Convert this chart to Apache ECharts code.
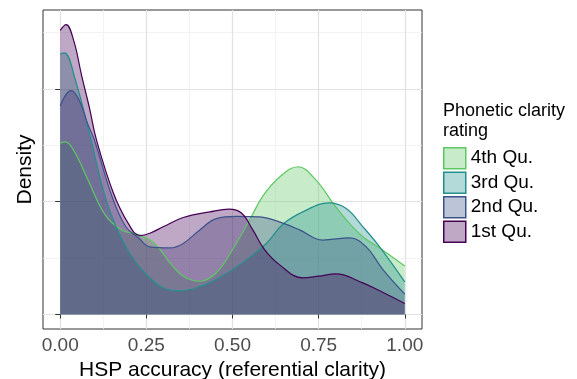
<!DOCTYPE html>
<html>
<head>
<meta charset="utf-8">
<script src="https://cdn.jsdelivr.net/npm/echarts@6/dist/echarts.min.js"></script>
<style>
  html, body { margin: 0; padding: 0; background: #fff; }
  #chart { width: 577px; height: 379px; }
</style>
</head>
<body>
<div id="chart"></div>
<script>
// density curves, one x/y pair of arrays per quartile
const q4X = [0, 0.015, 0.04, 0.081, 0.13, 0.178, 0.226, 0.274, 0.318, 0.357, 0.405, 0.453, 0.5, 0.55, 0.588, 0.637, 0.69, 0.743, 0.791, 0.83, 0.878, 0.927, 1.0];
const q4Y = [1.52, 1.53, 1.45, 1.19, 0.885, 0.75, 0.71, 0.63, 0.46, 0.34, 0.295, 0.37, 0.575, 0.84, 1.05, 1.22, 1.31, 1.19, 0.99, 0.84, 0.69, 0.59, 0.43];

const q3X = [0, 0.012, 0.043, 0.089, 0.125, 0.159, 0.2, 0.245, 0.303, 0.347, 0.4, 0.453, 0.53, 0.598, 0.646, 0.704, 0.78, 0.83, 0.878, 0.927, 1.0];
const q3Y = [2.31, 2.32, 2.09, 1.55, 1.1, 0.8, 0.55, 0.37, 0.23, 0.21, 0.24, 0.31, 0.46, 0.63, 0.8, 0.91, 0.99, 0.94, 0.78, 0.6, 0.29];

const q2X = [0, 0.031, 0.055, 0.081, 0.099, 0.15, 0.19, 0.227, 0.26, 0.318, 0.357, 0.405, 0.453, 0.511, 0.579, 0.646, 0.695, 0.762, 0.84, 0.888, 0.936, 1.0];
const q2Y = [1.85, 1.985, 1.9, 1.68, 1.55, 1.05, 0.78, 0.68, 0.6, 0.59, 0.63, 0.75, 0.85, 0.87, 0.865, 0.81, 0.75, 0.66, 0.68, 0.6, 0.4, 0.18];

const q1X = [0, 0.017, 0.04, 0.062, 0.085, 0.105, 0.154, 0.197, 0.231, 0.26, 0.3, 0.357, 0.434, 0.49, 0.526, 0.559, 0.593, 0.637, 0.704, 0.75, 0.8, 0.878, 0.94, 1.0];
const q1Y = [2.52, 2.57, 2.42, 2.12, 1.83, 1.55, 1.08, 0.81, 0.7, 0.72, 0.78, 0.86, 0.91, 0.935, 0.9, 0.75, 0.575, 0.44, 0.325, 0.34, 0.36, 0.28, 0.19, 0.097];

const groups = ["4th Qu.", "3rd Qu.", "2nd Qu.", "1st Qu."];
const colors = ["#5DC863", "#21908C", "#3B528B", "#440154"];

const xTicks = [0, 0.25, 0.5, 0.75, 1];
const xMinor = [0.125, 0.375, 0.625, 0.875];
const yTicks = [0, 1, 2];
const yMinor = [0.5, 1.5, 2.5];

const fontFamily = "'Liberation Sans', Arial, sans-serif";
const fillAlpha = 0.34;

function rgba(hex, a) {
  const n = parseInt(hex.slice(1), 16);
  return "rgba(" + (n >> 16) + "," + ((n >> 8) & 255) + "," + (n & 255) + "," + a + ")";
}

const curves = [[q4X, q4Y], [q3X, q3Y], [q2X, q2Y], [q1X, q1Y]];

const chart = echarts.init(document.getElementById("chart"));

chart.setOption({
  animation: false,
  backgroundColor: "#fff",
  title: {
    text: "Phonetic clarity\nrating",
    left: 443,
    top: 101,
    padding: 0,
    textStyle: {
      fontFamily: fontFamily,
      fontSize: 18,
      fontWeight: "normal",
      color: "#000",
      lineHeight: 20
    }
  },
  legend: {
    orient: "vertical",
    left: 443,
    top: 147,
    padding: 0,
    itemWidth: 22,
    itemHeight: 21,
    itemGap: 2,
    icon: "rect",
    textStyle: { fontFamily: fontFamily, fontSize: 19, color: "#000" },
    data: groups.map((g, i) => ({
      name: g,
      itemStyle: { color: rgba(colors[i], fillAlpha), borderColor: colors[i], borderWidth: 1.5 }
    }))
  },
  grid: {
    left: 43,
    right: 155,
    top: 10,
    bottom: 50,
    outerBoundsMode: "none",
    show: true,
    backgroundColor: "#fff",
    borderColor: "#333",
    borderWidth: 1
  },
  xAxis: [
    {
      type: "value",
      min: -0.05,
      max: 1.05,
      name: "HSP accuracy (referential clarity)",
      nameLocation: "middle",
      nameGap: 26,
      nameTextStyle: { fontFamily: fontFamily, fontSize: 21, color: "#000" },
      axisLine: { show: false },
      axisTick: { show: true, customValues: xTicks, length: 4, lineStyle: { color: "#333" } },
      axisLabel: {
        customValues: xTicks,
        margin: 7,
        fontFamily: fontFamily,
        fontSize: 19,
        color: "#4d4d4d",
        formatter: v => v.toFixed(2)
      },
      splitLine: { show: true, lineStyle: { color: "#e2e2e2", width: 1.2 } }
    },
    {
      type: "value",
      min: -0.05,
      max: 1.05,
      position: "top",
      axisLine: { show: false },
      axisTick: { show: false, customValues: xMinor },
      axisLabel: { show: false, customValues: xMinor },
      splitLine: { show: true, lineStyle: { color: "#f0f0f0", width: 0.8 } }
    }
  ],
  yAxis: [
    {
      type: "value",
      min: -0.1285,
      max: 2.7,
      name: "Density",
      nameLocation: "middle",
      nameRotate: 90,
      nameGap: 7,
      nameTextStyle: { fontFamily: fontFamily, fontSize: 21, color: "#000" },
      axisLine: { show: false },
      axisTick: { show: true, customValues: yTicks, length: 5, lineStyle: { color: "#333" } },
      axisLabel: { show: false, customValues: yTicks },
      splitLine: { show: true, lineStyle: { color: "#e2e2e2", width: 1.2 } }
    },
    {
      type: "value",
      min: -0.1285,
      max: 2.7,
      position: "right",
      axisLine: { show: false },
      axisTick: { show: false, customValues: yMinor },
      axisLabel: { show: false, customValues: yMinor },
      splitLine: { show: true, lineStyle: { color: "#f0f0f0", width: 0.8 } }
    }
  ],
  series: groups.map((g, i) => ({
    name: g,
    type: "line",
    xAxisIndex: 0,
    yAxisIndex: 0,
    smooth: 0.4,
    symbol: "none",
    data: curves[i][0].map((x, j) => [x, curves[i][1][j]]),
    itemStyle: { color: colors[i] },
    lineStyle: { color: colors[i], width: 1.2 },
    areaStyle: { color: colors[i], opacity: fillAlpha }
  }))
});
</script>
</body>
</html>
